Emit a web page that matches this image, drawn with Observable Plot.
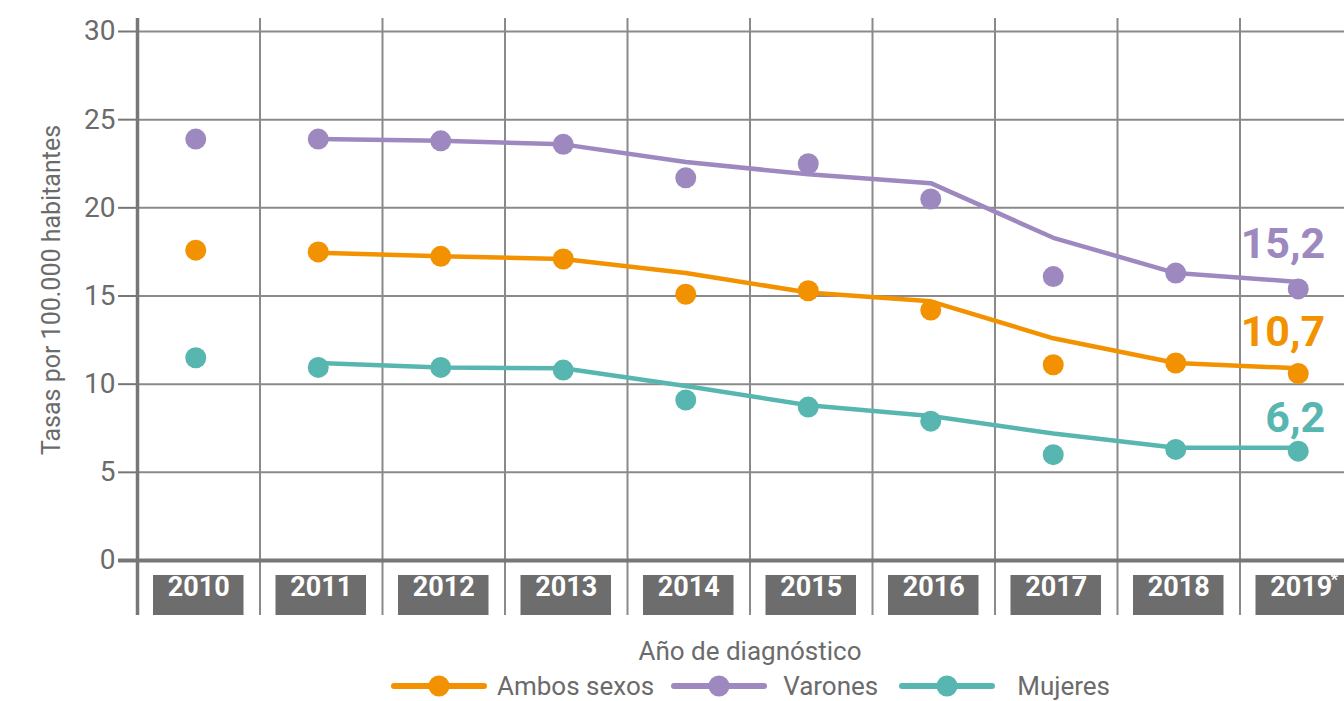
<!DOCTYPE html>
<html>
<head>
<meta charset="utf-8">
<script src="https://cdn.jsdelivr.net/npm/d3@7"></script>
<script src="https://cdn.jsdelivr.net/npm/@observablehq/plot@0.6"></script>
<style>
  body { margin: 0; background: #fff; font-family: Roboto, "Noto Sans", sans-serif; }
  #wrap { position: relative; width: 1344px; height: 701px; overflow: hidden; }
  #wrap svg { display: block; }
  .xtitle { position: absolute; left: 750px; top: 636px; transform: translateX(-50%); font-size: 26px; line-height: 30px; color: #6b6b6b; white-space: nowrap; }
  .ytitle { position: absolute; left: 52px; top: 290px; transform: translate(-50%, -50%) rotate(-90deg); font-size: 25px; line-height: 30px; color: #6b6b6b; white-space: nowrap; }
  .legend { position: absolute; left: 391px; top: 671px; display: flex; align-items: center; height: 30px; }
  .legend .item { display: flex; align-items: center; }
  .legend .item span { font-size: 26px; line-height: 28px; color: #6b6b6b; }
</style>
</head>
<body>
<div id="wrap"></div>
<script>
// ---- data ----
const years = [2010, 2011, 2012, 2013, 2014, 2015, 2016, 2017, 2018, 2019];
const xLabels = ["2010", "2011", "2012", "2013", "2014", "2015", "2016", "2017", "2018", "2019"];
const xNote = "*"; // on the last year
const yTicks = [0, 5, 10, 15, 20, 25, 30];

const seriesNames = ["Ambos sexos", "Varones", "Mujeres"];
const seriesColors = ["#F39200", "#9D88C0", "#57B7B0"];

// observed rates (dots), 2010-2019
const ambosDots   = [17.6, 17.5, 17.25, 17.1, 15.1, 15.3, 14.2, 11.1, 11.2, 10.6];
const varonesDots = [23.9, 23.9, 23.8, 23.6, 21.7, 22.5, 20.5, 16.1, 16.3, 15.4];
const mujeresDots = [11.5, 10.95, 10.95, 10.8, 9.1, 8.7, 7.9, 6.0, 6.3, 6.2];

// trend line, 2011-2019
const trendYears   = [2011, 2012, 2013, 2014, 2015, 2016, 2017, 2018, 2019];
const ambosTrend   = [17.45, 17.25, 17.1, 16.3, 15.2, 14.7, 12.6, 11.2, 10.9];
const varonesTrend = [23.9, 23.8, 23.6, 22.6, 21.9, 21.4, 18.3, 16.3, 15.8];
const mujeresTrend = [11.2, 10.95, 10.9, 9.9, 8.8, 8.2, 7.2, 6.4, 6.4];

// final labels
const endLabels = ["10,7", "15,2", "6,2"];

// ---- build tables ----
const dotsBySeries = [ambosDots, varonesDots, mujeresDots];
const trendBySeries = [ambosTrend, varonesTrend, mujeresTrend];
const endDy = [-41, -45, -33];

const dotsData = seriesNames.flatMap((name, s) =>
  years.map((year, i) => ({ name, year, value: dotsBySeries[s][i] })));
const trendData = seriesNames.flatMap((name, s) =>
  trendYears.map((year, i) => ({ name, year, value: trendBySeries[s][i] })));
const boundaries = years.slice(1).map(y => y - 0.5);
const lastYear = years[years.length - 1];

const grid = "#8a8a8a";
const axisGray = "#777";
const textGray = "#6b6b6b";

const endMarks = seriesNames.map((name, s) =>
  Plot.text([{ year: lastYear, value: dotsBySeries[s][years.length - 1] }], {
    x: "year", y: "value", text: () => endLabels[s],
    fill: seriesColors[s], fontSize: 43, fontWeight: 700,
    textAnchor: "end", dx: 24, dy: endDy[s]
  }));

const chart = Plot.plot({
  width: 1344,
  height: 615,
  marginTop: 18,
  marginBottom: 0,
  marginLeft: 137,
  marginRight: 0,
  style: { fontFamily: "Roboto, 'Noto Sans', sans-serif", background: "white", overflow: "hidden" },
  x: { type: "linear", domain: [years[0] - 0.5, lastYear + 0.5], range: [137, 1362], axis: null },
  y: { domain: [0, 30], range: [560, 31], axis: null },
  color: { domain: seriesNames, range: seriesColors },
  marks: [
    Plot.ruleY(yTicks.filter(t => t > 0), { stroke: grid, strokeWidth: 2 }),
    Plot.ruleX(boundaries, { stroke: grid, strokeWidth: 2 }),
    Plot.rect(years, { x1: d => d - 0.5, x2: d => d + 0.5, insetLeft: 16, insetRight: 16, insetTop: 557, fill: "#6d6d6d" }),
    Plot.text(years, { x: d => d, text: (d, i) => xLabels[i], frameAnchor: "bottom", dy: -20, fill: "white", fontSize: 27, fontWeight: 700 }),
    Plot.text([lastYear], { x: d => d, text: () => xNote, frameAnchor: "bottom", dx: 33, dy: -31, fill: "white", fontSize: 17, fontWeight: 700 }),
    Plot.ruleX([years[0] - 0.5], { stroke: axisGray, strokeWidth: 3.5 }),
    Plot.axisY({ ticks: yTicks, tickSize: 19, tickPadding: 3, fontSize: 28, color: textGray, stroke: axisGray, strokeWidth: 2, label: null }),
    Plot.axisY({ ticks: [0], tickSize: 19, tickFormat: () => "", stroke: axisGray, strokeWidth: 4, label: null }),
    Plot.ruleY([0], { stroke: axisGray, strokeWidth: 4 }),
    Plot.line(trendData, { x: "year", y: "value", z: "name", stroke: "name", strokeWidth: 4.5, dx: -3 }),
    Plot.dot(dotsData, { x: "year", y: "value", fill: "name", r: 10.5, dx: -3 }),
    ...endMarks
  ]
});

const wrap = document.getElementById("wrap");
wrap.appendChild(chart);

const xt = document.createElement("div");
xt.className = "xtitle";
xt.textContent = "Año de diagnóstico";
wrap.appendChild(xt);

const yt = document.createElement("div");
yt.className = "ytitle";
yt.textContent = "Tasas por 100.000 habitantes";
wrap.appendChild(yt);

const textGap = [10, 16, 22];
const itemGap = [17, 21, 0];
const legend = document.createElement("div");
legend.className = "legend";
seriesNames.forEach((name, s) => {
  const item = document.createElement("div");
  item.className = "item";
  item.style.marginRight = itemGap[s] + "px";
  item.innerHTML = `<svg width="96" height="24" viewBox="0 0 96 24"><line x1="3" y1="12" x2="93" y2="12" stroke="${seriesColors[s]}" stroke-width="6" stroke-linecap="round"/><circle cx="48" cy="12" r="10.5" fill="${seriesColors[s]}"/></svg><span style="margin-left:${textGap[s]}px">${name}</span>`;
  legend.appendChild(item);
});
wrap.appendChild(legend);
</script>
</body>
</html>
